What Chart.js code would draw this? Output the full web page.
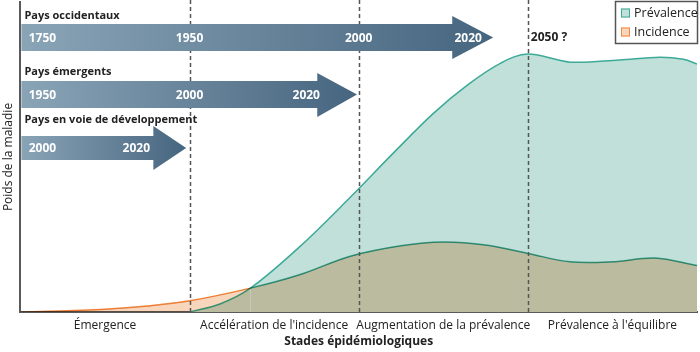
<!DOCTYPE html>
<html><head><meta charset="utf-8">
<script src="https://cdn.jsdelivr.net/npm/chart.js@4/dist/chart.umd.min.js"></script>
<style>html,body{margin:0;padding:0;background:#fff}#wrap{width:700px;height:352px;position:relative}</style>
</head><body><div id="wrap"><canvas id="c"></canvas></div>
<script>
// ---- data ----
const stageLabels = ['Émergence', "Accélération de l'incidence", 'Augmentation de la prévalence', "Prévalence à l'équilibre"];
const stageBoundaries = [1, 2, 3];
const prevalenceX = [1.00, 1.18, 1.36, 1.65, 1.95, 2.2, 2.44, 2.65, 2.84, 3.00, 3.25, 3.54, 3.78, 3.92, 4.00];
const prevalenceY = [0, 2.6, 7.7, 21, 37, 51, 64, 73.5, 80.3, 83.2, 80.6, 81.3, 82.2, 81.5, 80];
const incidenceX = [0, 0.5, 0.75, 1.0, 1.36, 1.65, 1.95, 2.25, 2.5, 2.75, 3.0, 3.25, 3.5, 3.75, 4.0];
const incidenceY = [0, 0.9, 1.9, 3.6, 7.7, 12, 18, 21.4, 22.6, 21.6, 18.9, 16.2, 16.2, 17.4, 15];
const crossingX = 1.36;
const timelineNames = ['Pays occidentaux', 'Pays émergents', 'Pays en voie de développement'];
const timelineYears = [['1750', '1950', '2000', '2020'], ['1950', '2000', '2020'], ['2000', '2020']];
const futureLabel = '2050 ?';

// ---- layout / style ----
const arrowLayout = [
  {bodyEnd: 2.553, tip: 2.795, bodyTop: 24, bodyBottom: 51, headTop: 16, headBottom: 59, titleY: 16, yearPos: [0.13, 1, 2, 2.647]},
  {bodyEnd: 1.755, tip: 1.99, bodyTop: 81, bodyBottom: 108, headTop: 73, headBottom: 117, titleY: 72, yearPos: [0.13, 1, 1.69]},
  {bodyEnd: 0.786, tip: 0.98, bodyTop: 136, bodyBottom: 160, headTop: 126, headBottom: 170, titleY: 120, yearPos: [0.13, 0.685]}
];
const FONT = "'Open Sans', 'DejaVu Sans', sans-serif";
const TEAL_LINE = '#3daa98', TEAL_FILL = '#c1e0d9';
const ORANGE_LINE = '#f0883e', ORANGE_FILL = '#f8d6bb';
const DARK = '#222';

const pts = (xs, ys) => xs.map((x, i) => ({x, y: ys[i]}));

const blendPlugin = {
  id: 'blend',
  afterDatasetDraw(chart, args) {
    if (args.index === 0) chart.ctx.globalCompositeOperation = 'multiply';
    if (args.index === 1) chart.ctx.globalCompositeOperation = 'source-over';
  }
};

const decorPlugin = {
  id: 'decor',
  afterDatasetsDraw(chart) {
    const ctx = chart.ctx, xs = chart.scales.x, area = chart.chartArea;
    ctx.save();
    ctx.globalCompositeOperation = 'source-over';
    // dashed stage boundaries
    ctx.strokeStyle = '#555'; ctx.lineWidth = 1.5; ctx.setLineDash([4, 3]);
    stageBoundaries.forEach(b => {
      const px = Math.round(xs.getPixelForValue(b)) + 0.5;
      ctx.beginPath(); ctx.moveTo(px, 0); ctx.lineTo(px, area.bottom); ctx.stroke();
    });
    ctx.setLineDash([]);
    // timeline arrows
    const x0 = area.left + 1;
    arrowLayout.forEach((a, k) => {
      const xb = xs.getPixelForValue(a.bodyEnd), xt = xs.getPixelForValue(a.tip);
      const ym = (a.bodyTop + a.bodyBottom) / 2;
      const g = ctx.createLinearGradient(x0, 0, xt, 0);
      g.addColorStop(0, '#8aa4b7'); g.addColorStop(1, '#46657f');
      ctx.beginPath();
      ctx.moveTo(x0, a.bodyTop); ctx.lineTo(xb, a.bodyTop); ctx.lineTo(xb, a.headTop);
      ctx.lineTo(xt, ym); ctx.lineTo(xb, a.headBottom); ctx.lineTo(xb, a.bodyBottom);
      ctx.lineTo(x0, a.bodyBottom); ctx.closePath();
      ctx.fillStyle = g; ctx.fill();
      ctx.fillStyle = DARK; ctx.font = 'bold 11px ' + FONT;
      ctx.textAlign = 'left'; ctx.textBaseline = 'middle';
      ctx.fillText(timelineNames[k], area.left + 4, a.titleY);
      ctx.fillStyle = '#fff'; ctx.font = 'bold 12px ' + FONT; ctx.textAlign = 'center';
      timelineYears[k].forEach((yr, j) => ctx.fillText(yr, xs.getPixelForValue(a.yearPos[j]), ym + 1));
    });
    ctx.fillStyle = DARK; ctx.font = 'bold 12px ' + FONT; ctx.textAlign = 'left'; ctx.textBaseline = 'middle';
    ctx.fillText(futureLabel, xs.getPixelForValue(stageBoundaries[2]) + 3, 38);
    // legend
    const lx = 615, ly = 1, lw = 82, lh = 42;
    ctx.fillStyle = '#fff'; ctx.fillRect(lx, ly, lw, lh);
    ctx.strokeStyle = '#555'; ctx.lineWidth = 1.5; ctx.strokeRect(lx + 0.5, ly + 0.5, lw, lh);
    chart.data.datasets.forEach((ds, i) => {
      const y = 13 + i * 19;
      ctx.fillStyle = ds.backgroundColor; ctx.fillRect(621, y - 4.5, 9, 9);
      ctx.strokeStyle = ds.legendLine; ctx.lineWidth = 1; ctx.strokeRect(621.5, y - 4, 8, 8);
      ctx.fillStyle = DARK; ctx.font = '12.5px ' + FONT; ctx.textAlign = 'left'; ctx.textBaseline = 'middle';
      ctx.fillText(ds.label, 634, y);
    });
    ctx.restore();
  }
};

new Chart(document.getElementById('c'), {
  type: 'line',
  data: {
    datasets: [
      {label: 'Prévalence', data: pts(prevalenceX, prevalenceY), order: 1, fill: 'origin',
       backgroundColor: TEAL_FILL, borderColor: TEAL_LINE, legendLine: TEAL_LINE, borderWidth: 1.5,
       pointRadius: 0, tension: 0.35},
      {label: 'Incidence', data: pts(incidenceX, incidenceY), order: 0, fill: 'origin',
       backgroundColor: ORANGE_FILL, borderColor: ORANGE_LINE, legendLine: ORANGE_LINE, borderWidth: 1.5,
       pointRadius: 0, tension: 0.35,
       segment: {borderColor: c => c.p0.parsed.x >= crossingX ? TEAL_LINE : ORANGE_LINE}}
    ]
  },
  options: {
    responsive: true, maintainAspectRatio: false, animation: false,
    layout: {padding: {top: 2, right: 3, left: 0, bottom: 0}},
    plugins: {legend: {display: false}, tooltip: {enabled: false}},
    scales: {
      x: {type: 'linear', min: 0, max: 4,
          grid: {display: false, drawTicks: false},
          border: {display: true, color: '#5a5a5a', width: 2},
          afterBuildTicks: s => { s.ticks = stageLabels.map((_, i) => ({value: i + 0.5})); },
          afterFit: s => { s.height = 40; },
          ticks: {autoSkip: false, maxRotation: 0, padding: 6, color: DARK,
                  font: {family: FONT, size: 12},
                  callback: v => stageLabels[Math.round(v - 0.5)]},
          title: {display: true, text: 'Stades épidémiologiques', color: DARK,
                  font: {family: FONT, size: 12, weight: 'bold'}, padding: {top: 2, bottom: 3}}},
      y: {min: 0, max: 100,
          grid: {display: false, drawTicks: false},
          border: {display: true, color: '#5a5a5a', width: 2},
          ticks: {display: false},
          title: {display: true, text: 'Poids de la maladie', color: DARK,
                  font: {family: FONT, size: 12}, padding: {top: 1, bottom: 5}}}
    }
  },
  plugins: [blendPlugin, decorPlugin]
});
</script></body></html>
